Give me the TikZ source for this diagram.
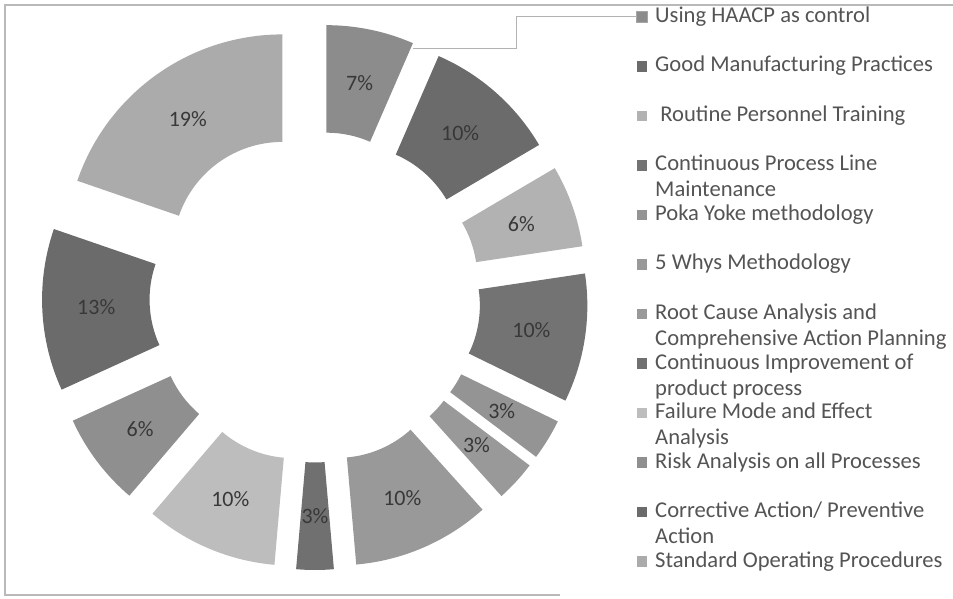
\documentclass[tikz,border=0pt]{standalone}
\usepackage{fontspec}
\setmainfont{Carlito}

\definecolor{haccp}{gray}{0.55}
\definecolor{gmp}{gray}{0.42}
\definecolor{routine}{gray}{0.70}
\definecolor{cplm}{gray}{0.45}
\definecolor{poka}{gray}{0.58}
\definecolor{whys}{gray}{0.60}
\definecolor{rootc}{gray}{0.60}
\definecolor{cimp}{gray}{0.44}
\definecolor{fmea}{gray}{0.74}
\definecolor{risk}{gray}{0.56}
\definecolor{capa}{gray}{0.42}
\definecolor{sop}{gray}{0.67}
\definecolor{legtextgray}{gray}{0.33}
\definecolor{pctgray}{gray}{0.22}

% two line legend entry, baseline on the first line
\newcommand{\twolines}[2]{\begin{tabular}[t]{@{}l@{}}#1\\#2\end{tabular}}

\begin{document}
\begin{tikzpicture}[x=1pt,y=1pt,
  pct/.style={font=\fontsize{22}{26}\selectfont,text=pctgray,inner sep=0pt},
  legtext/.style={anchor=base west,font=\fontsize{22.6}{26}\selectfont,text=legtextgray,inner sep=0pt},
  legbox/.style={minimum size=10.5pt,inner sep=0pt}]

\useasboundingbox (0,0) rectangle (953,598);

%frame of the chart area
\draw[gray!55,line width=1.2pt] (953,593) -- (5,593) -- (5,3) -- (560,3);

%exploded donut: number / start and end angle (clockwise from top) / colour / label
\foreach \i/\a/\b/\c/\p in {1/0/23.5/haccp/7, 2/23.5/59.5/gmp/10, 3/59.5/81.5/routine/6,
  4/81.5/116/cplm/10, 5/116/127/poka/3, 6/127/138/whys/3, 7/138/175/rootc/10,
  8/175/185/cimp/3, 9/185/220.5/fmea/10, 10/220.5/245.5/risk/6, 11/245.5/289/capa/13,
  12/289/360/sop/19}{
  \pgfmathsetmacro{\sa}{90-\a}
  \pgfmathsetmacro{\ea}{90-\b}
  \pgfmathsetmacro{\m}{90-(\a+\b)/2}
  \pgfmathsetmacro{\dx}{315+56*cos(\m)}
  \pgfmathsetmacro{\dy}{301+56*sin(\m)}
  \begin{scope}[shift={(\dx,\dy)}]
    \fill[\c] (\sa:109.5) -- (\sa:217) arc[start angle=\sa,end angle=\ea,radius=217]
      -- (\ea:109.5) arc[start angle=\ea,end angle=\sa,radius=109.5] -- cycle;
    \node[pct] (p\i) at (\m:163) {\p\%};
  \end{scope}
}

%legend
\foreach \i/\c/\t in {1/haccp/{Using HAACP as control},
  2/gmp/{Good Manufacturing Practices},
  3/routine/{\ Routine Personnel Training},
  4/cplm/{\twolines{Continuous Process Line}{Maintenance}},
  5/poka/{Poka Yoke methodology},
  6/whys/{5 Whys Methodology},
  7/rootc/{\twolines{Root Cause Analysis and}{Comprehensive Action Planning}},
  8/cimp/{\twolines{Continuous Improvement of}{product process}},
  9/fmea/{\twolines{Failure Mode and Effect}{Analysis}},
  10/risk/{Risk Analysis on all Processes},
  11/capa/{\twolines{Corrective Action/ Preventive}{Action}},
  12/sop/{Standard Operating Procedures}}{
  \pgfmathsetmacro{\ly}{581-49.5*(\i-1)}
  \node[legbox,fill=\c] (m\i) at (642,\ly) {};
  \node[legtext] (t\i) at (655,\ly-5.5) {\t};
}
\draw[gray!70,line width=0.6pt] (m1.north west) rectangle (m1.south east);

%leader from the 7% slice to its legend entry
\coordinate (lead) at (413,549);
\draw[gray!60,line width=1pt] (lead) -- (516,549) |- (m1.west);
\end{tikzpicture}
\end{document}
